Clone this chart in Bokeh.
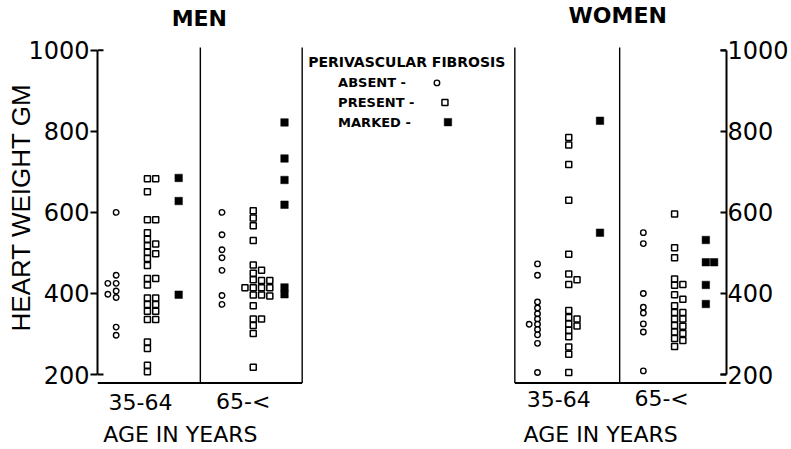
import math
from bokeh.plotting import figure
from bokeh.models import Range1d, LinearAxis, FixedTicker
from bokeh.embed import file_html
from bokeh.resources import INLINE
from bokeh.core.properties import value

# ---------------- data ----------------
panels = ["MEN", "WOMEN"]
age_groups = ["35-64", "65-<"]
x_title = "AGE IN YEARS"
y_title = "HEART WEIGHT GM"
y_ticks = [200, 400, 600, 800, 1000]
legend_title = "PERIVASCULAR FIBROSIS"
levels = ["ABSENT", "PRESENT", "MARKED"]

men_young_absent = [600, 445, 425, 425, 406, 398, 390, 317, 297]
men_young_present = [683, 683, 651, 582, 582, 550, 534, 522, 518, 502, 498, 486, 469,
                     437, 437, 421, 389, 389, 373, 373, 356, 356, 336, 336, 280, 264, 223, 207]
men_young_marked = [685, 628, 397]

men_old_absent = [600, 545, 508, 488, 457, 395, 373]
men_old_present = [604, 586, 567, 531, 470, 457, 450, 434, 432, 432, 414, 414, 414, 414,
                   396, 396, 394, 370, 337, 337, 321, 301, 218]
men_old_marked = [822, 733, 680, 619, 415, 398]

women_young_absent = [473, 445, 379, 364, 350, 337, 324, 324, 311, 298, 277, 205]
women_young_present = [785, 766, 718, 630, 497, 448, 434, 422, 358, 341, 337, 325, 320,
                       309, 293, 268, 250, 205]
women_young_marked = [826, 550]

women_old_absent = [550, 523, 400, 366, 352, 325, 305, 209]
women_old_present = [596, 513, 488, 436, 422, 420, 397, 386, 370, 353, 353, 337, 337,
                     321, 319, 305, 301, 289, 284, 269]
women_old_marked = [532, 477, 477, 421, 374]

# ---------------- layout helpers (pixel -> data) ----------------
PX_UNIT = 31.3          # pixels per x unit
PX_GM = 0.4132          # pixels per gram


def xu(px):
    return (px - 147) / PX_UNIT


def yu(py):
    return 600 + (216 - py) / PX_GM


base = {("MEN", 0): xu(147), ("MEN", 1): xu(253),
        ("WOMEN", 0): xu(569), ("WOMEN", 1): xu(675)}
level_off = {"ABSENT": -1.0, "PRESENT": 0.0, "MARKED": 1.0}
STEP = 8.3 / PX_UNIT
orders = {"ABSENT": [0, -1, 1, -2], "PRESENT": [0, 1, 2, -1, 3, -2, 4], "MARKED": [0, 1, 2, 3]}
thresh = {"ABSENT": 12, "PRESENT": 15, "MARKED": 15}


def dodge(vals, lev):
    idx = sorted(range(len(vals)), key=lambda i: -vals[i])
    cols = [0] * len(vals)
    placed = []
    for i in idx:
        v = vals[i]
        for c in orders[lev]:
            if all(abs(v - pv) >= thresh[lev] for pv, pc in placed if pc == c):
                break
        cols[i] = c
        placed.append((v, c))
    return cols


series = [
    ("MEN", 0, "ABSENT", men_young_absent), ("MEN", 0, "PRESENT", men_young_present),
    ("MEN", 0, "MARKED", men_young_marked),
    ("MEN", 1, "ABSENT", men_old_absent), ("MEN", 1, "PRESENT", men_old_present),
    ("MEN", 1, "MARKED", men_old_marked),
    ("WOMEN", 0, "ABSENT", women_young_absent), ("WOMEN", 0, "PRESENT", women_young_present),
    ("WOMEN", 0, "MARKED", women_young_marked),
    ("WOMEN", 1, "ABSENT", women_old_absent), ("WOMEN", 1, "PRESENT", women_old_present),
    ("WOMEN", 1, "MARKED", women_old_marked),
]

p = figure(width=791, height=449, output_backend="svg", toolbar_location=None,
           x_range=Range1d(xu(97), xu(727)), y_range=Range1d(yu(422), yu(0)),
           min_border_left=97, min_border_right=64, min_border_top=0, min_border_bottom=27)
p.outline_line_color = None
p.xgrid.visible = False
p.ygrid.visible = False
p.background_fill_color = "white"
p.border_fill_color = "white"

# left y axis (men)
ya = p.yaxis[0]
ya.ticker = FixedTicker(ticks=y_ticks)
ya.bounds = (200, 1000)
ya.axis_line_width = 2
ya.axis_line_color = "black"
ya.major_tick_out = 7
ya.major_tick_in = 0
ya.major_tick_line_width = 2
ya.minor_tick_line_color = None
ya.major_label_standoff = 1
ya.major_label_text_font = "DejaVu Sans"
ya.major_label_text_font_size = "24px"
ya.major_label_text_color = "black"
ya.axis_label = y_title
ya.axis_label_standoff = -11
ya.axis_label_text_font = "Liberation Sans"
ya.axis_label_text_font_size = "26px"
ya.axis_label_text_font_style = "normal"
ya.axis_label_text_color = "black"

# right y axis (women)
yr = LinearAxis(ticker=FixedTicker(ticks=y_ticks), bounds=(200, 1000))
yr.axis_line_width = 2
yr.axis_line_color = "black"
yr.major_tick_out = 0
yr.major_tick_in = 6
yr.major_tick_line_width = 2
yr.minor_tick_line_color = None
yr.major_label_standoff = 1
yr.major_label_text_font = "DejaVu Sans"
yr.major_label_text_font_size = "24px"
yr.major_label_text_color = "black"
p.add_layout(yr, "right")

# x axis: only the "AGE IN YEARS" captions under each panel
xa = p.xaxis[0]
cap_pos = [round(xu(180), 4), round(xu(601), 4)]
xa.ticker = FixedTicker(ticks=cap_pos)
xa.major_label_overrides = {cap_pos[0]: x_title, cap_pos[1]: x_title}
xa.axis_line_color = None
xa.major_tick_line_color = None
xa.minor_tick_line_color = None
xa.major_label_standoff = 1
xa.major_label_text_font = "DejaVu Sans"
xa.major_label_text_font_size = "22px"
xa.major_label_text_color = "black"

# frame lines
ybot = yu(390)
ytop = yu(48)
p.segment(x0=[xu(97), xu(515)], y0=[ybot, ybot], x1=[xu(302), xu(727)], y1=[ybot, ybot],
          line_color="black", line_width=2)
p.segment(x0=[xu(200), xu(302), xu(515), xu(620)], y0=[ytop] * 4,
          x1=[xu(200), xu(302), xu(515), xu(620)], y1=[ybot] * 4,
          line_color="black", line_width=1.4)
# bracket ends of the weight axes
p.segment(x0=[xu(97)] * 2 + [xu(721)] * 2, y0=[1000, 200, 1000, 200],
          x1=[xu(103)] * 2 + [xu(727)] * 2, y1=[1000, 200, 1000, 200],
          line_color="black", line_width=2)

# data points
for pan, g, lev, vals in series:
    cols = dodge(vals, lev)
    xs = [base[(pan, g)] + level_off[lev] + c * STEP for c in cols]
    if lev == "ABSENT":
        p.scatter(xs, vals, marker="circle", size=5.5, fill_color="white",
                  line_color="black", line_width=1.4)
    elif lev == "PRESENT":
        p.scatter(xs, vals, marker="square", size=6, fill_color="white",
                  line_color="black", line_width=1.5)
    else:
        p.scatter(xs, vals, marker="square", size=7.5, fill_color="black",
                  line_color="black", line_width=0.5)

# age-group labels under each panel
grp_x = [xu(140), xu(243), xu(559), xu(662)]
grp_y = [yu(409), yu(409), yu(406), yu(406)]
p.text(x=grp_x, y=grp_y, text=age_groups * 2, text_font=value("DejaVu Sans"),
       text_font_size="22px", text_align="center", text_baseline="middle", text_color="black")

# panel titles
p.text(x=[xu(199), xu(618)], y=[yu(18), yu(15)], text=panels, text_font=value("DejaVu Sans"),
       text_font_style="bold", text_font_size="22px", text_align="center",
       text_baseline="middle", text_color="black")

# legend
p.text(x=[xu(308)], y=[yu(63)], text=[legend_title], text_font=value("DejaVu Sans"),
       text_font_style="bold", text_font_size="14px", text_baseline="middle",
       text_align="left", text_color="black")
leg_y = [yu(84), yu(104), yu(124)]
p.text(x=[xu(338)] * 3, y=leg_y, text=[lv + " -" for lv in levels],
       text_font=value("DejaVu Sans"), text_font_style="bold", text_font_size="13px",
       text_baseline="middle", text_align="left", text_color="black")
p.scatter([xu(437)], [leg_y[0]], marker="circle", size=5.5, fill_color="white",
          line_color="black", line_width=1.4)
p.scatter([xu(445)], [leg_y[1]], marker="square", size=6, fill_color="white",
          line_color="black", line_width=1.5)
p.scatter([xu(448)], [leg_y[2]], marker="square", size=7.5, fill_color="black",
          line_color="black", line_width=0.5)

open("out.html", "w").write(file_html(p, INLINE))
